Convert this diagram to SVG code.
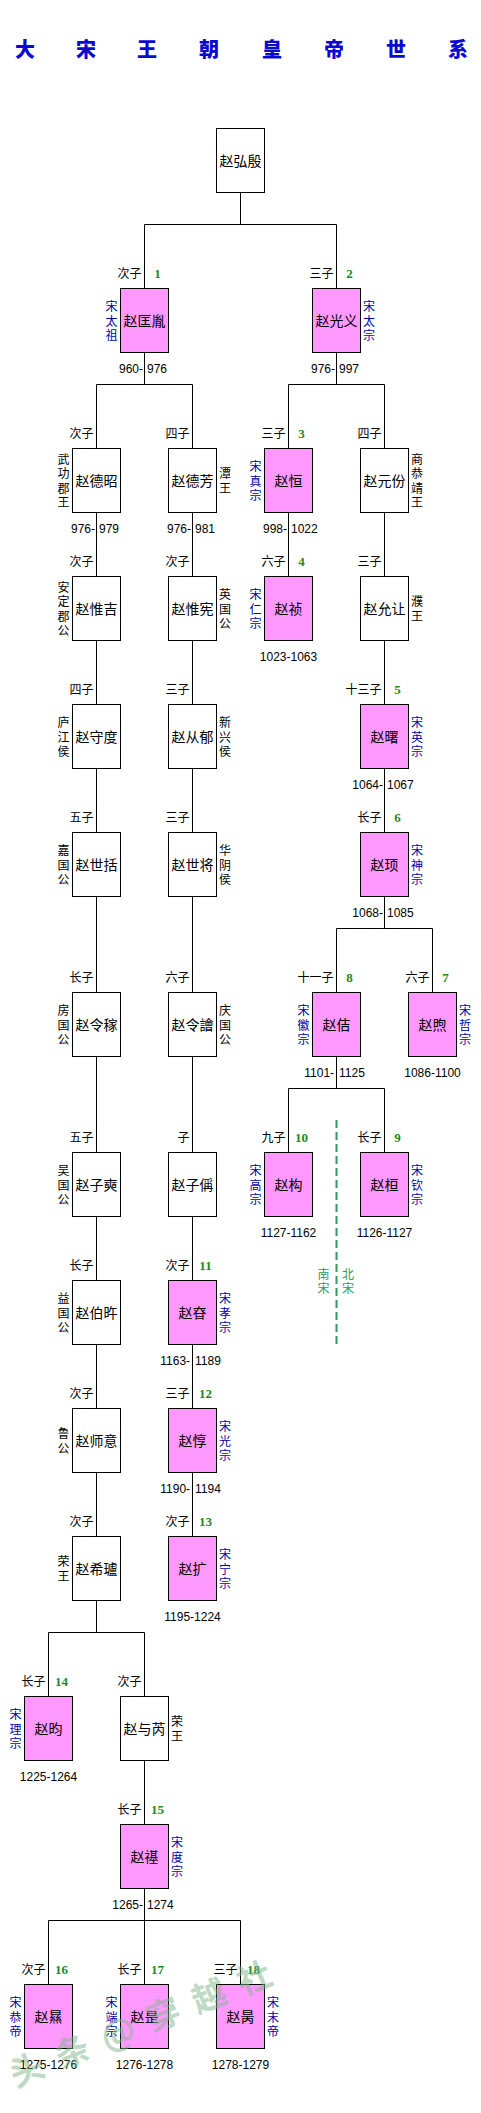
<svg xmlns="http://www.w3.org/2000/svg" width="481" height="2113" viewBox="0 0 481 2113">
<style>
text{font-family:'Liberation Sans','Noto Sans CJK SC',sans-serif;}
.box{stroke:#000;stroke-width:1;}
.w{fill:#fff;}
.p{fill:#ff99ff;}
.nm{font-size:14px;text-anchor:middle;fill:#000;}
.gen{font-size:12px;text-anchor:end;fill:#000;}
.num{font-family:'Liberation Serif','Noto Sans CJK SC',serif;font-weight:bold;font-size:13px;text-anchor:middle;fill:#1a8c1a;}
.yr{font-size:12px;fill:#000;}
.yc{text-anchor:middle;}
.emp{font-size:12px;text-anchor:middle;fill:#0000aa;}
.nob{font-size:12px;text-anchor:middle;fill:#000;}
.ttl{font-family:'Noto Sans CJK SC',sans-serif;font-weight:900;font-size:20px;text-anchor:middle;fill:#0a0ad0;}
.conn{stroke:#000;stroke-width:1;fill:none;}
.div{stroke:#2e9a5e;stroke-width:2;stroke-dasharray:8 4;fill:none;}
.dl{font-size:12px;text-anchor:middle;fill:#2e9a5e;}
.wm{font-family:'Noto Sans CJK SC',sans-serif;font-weight:bold;font-size:34px;letter-spacing:15px;fill:#7fb58a;opacity:0.5;}
</style>
<rect x="0" y="0" width="481" height="2113" fill="#fff"/>
<text class="ttl" y="57"><tspan x="25">大</tspan><tspan x="86">宋</tspan><tspan x="147">王</tspan><tspan x="209">朝</tspan><tspan x="272">皇</tspan><tspan x="334">帝</tspan><tspan x="396">世</tspan><tspan x="458">系</tspan></text>
<g id="connectors">
<path class="conn" d="M240.5 192.5V224.5M144.5 224.5H336.5M144.5 224.5V288.5M336.5 224.5V288.5
M144.5 352.5V384.5M96.5 384.5H192.5M96.5 384.5V448.5M192.5 384.5V448.5
M336.5 352.5V384.5M288.5 384.5H384.5M288.5 384.5V448.5M384.5 384.5V448.5
M96.5 512.5V576.5M96.5 640.5V704.5M96.5 768.5V832.5M96.5 896.5V992.5M96.5 1056.5V1152.5M96.5 1216.5V1280.5M96.5 1344.5V1408.5M96.5 1472.5V1536.5
M96.5 1600.5V1632.5M48.5 1632.5H144.5M48.5 1632.5V1696.5M144.5 1632.5V1696.5
M144.5 1760.5V1824.5M144.5 1888.5V1920.5M48.5 1920.5H240.5M48.5 1920.5V1984.5M144.5 1920.5V1984.5M240.5 1920.5V1984.5
M192.5 512.5V576.5M192.5 640.5V704.5M192.5 768.5V832.5M192.5 896.5V992.5M192.5 1056.5V1152.5M192.5 1216.5V1280.5M192.5 1344.5V1408.5M192.5 1472.5V1536.5
M288.5 512.5V576.5
M384.5 512.5V576.5M384.5 640.5V704.5M384.5 768.5V832.5M384.5 896.5V928.5M336.5 928.5H432.5M336.5 928.5V992.5M432.5 928.5V992.5
M336.5 1056.5V1088.5M288.5 1088.5H384.5M288.5 1088.5V1152.5M384.5 1088.5V1152.5"/>
<path class="div" d="M336.5 1120V1344"/>
</g>
<text class="dl"><tspan x="323.5" y="1278.6">南</tspan><tspan x="323.5" y="1293.1">宋</tspan></text>
<text class="dl"><tspan x="348" y="1278.6">北</tspan><tspan x="348" y="1293.1">宋</tspan></text>

<g id="n0"><rect class="box w" x="216.5" y="128.5" width="48" height="64"/><text class="nm" x="240.5" y="165.5">赵弘殷</text></g>

<g id="n1"><rect class="box p" x="120.5" y="288.5" width="48" height="64"/><text class="nm" x="144.5" y="325.5">赵匡胤</text><text class="gen" x="141.5" y="278">次子</text><text class="num" x="157.5" y="278">1</text><text class="emp"><tspan x="111.5" y="311.1">宋</tspan><tspan x="111.5" y="325.6">太</tspan><tspan x="111.5" y="340.1">祖</tspan></text><text class="yr" x="119" y="373">960-<tspan x="147">976</tspan></text></g>

<g id="n2"><rect class="box p" x="312.5" y="288.5" width="48" height="64"/><text class="nm" x="336.5" y="325.5">赵光义</text><text class="gen" x="333.5" y="278">三子</text><text class="num" x="349.5" y="278">2</text><text class="emp"><tspan x="369" y="311.1">宋</tspan><tspan x="369" y="325.6">太</tspan><tspan x="369" y="340.1">宗</tspan></text><text class="yr" x="311" y="373">976-<tspan x="339">997</tspan></text></g>

<g id="n3"><rect class="box w" x="72.5" y="448.5" width="48" height="64"/><text class="nm" x="96.5" y="485.5">赵德昭</text><text class="gen" x="93.5" y="438">次子</text><text class="nob"><tspan x="63.5" y="463.85">武</tspan><tspan x="63.5" y="478.35">功</tspan><tspan x="63.5" y="492.85">郡</tspan><tspan x="63.5" y="507.35">王</tspan></text><text class="yr" x="71" y="533">976-<tspan x="99">979</tspan></text></g>

<g id="n4"><rect class="box w" x="168.5" y="448.5" width="48" height="64"/><text class="nm" x="192.5" y="485.5">赵德芳</text><text class="gen" x="189.5" y="438">四子</text><text class="nob"><tspan x="225" y="478.35">潭</tspan><tspan x="225" y="492.85">王</tspan></text><text class="yr" x="167" y="533">976-<tspan x="195">981</tspan></text></g>

<g id="n5"><rect class="box p" x="264.5" y="448.5" width="48" height="64"/><text class="nm" x="288.5" y="485.5">赵恒</text><text class="gen" x="285.5" y="438">三子</text><text class="num" x="301.5" y="438">3</text><text class="emp"><tspan x="255.5" y="471.1">宋</tspan><tspan x="255.5" y="485.6">真</tspan><tspan x="255.5" y="500.1">宗</tspan></text><text class="yr" x="263" y="533">998-<tspan x="291">1022</tspan></text></g>

<g id="n6"><rect class="box w" x="360.5" y="448.5" width="48" height="64"/><text class="nm" x="384.5" y="485.5">赵元份</text><text class="gen" x="381.5" y="438">四子</text><text class="nob"><tspan x="417" y="463.85">商</tspan><tspan x="417" y="478.35">恭</tspan><tspan x="417" y="492.85">靖</tspan><tspan x="417" y="507.35">王</tspan></text></g>

<g id="n7"><rect class="box w" x="72.5" y="576.5" width="48" height="64"/><text class="nm" x="96.5" y="613.5">赵惟吉</text><text class="gen" x="93.5" y="566">次子</text><text class="nob"><tspan x="63.5" y="591.85">安</tspan><tspan x="63.5" y="606.35">定</tspan><tspan x="63.5" y="620.85">郡</tspan><tspan x="63.5" y="635.35">公</tspan></text></g>

<g id="n8"><rect class="box w" x="168.5" y="576.5" width="48" height="64"/><text class="nm" x="192.5" y="613.5">赵惟宪</text><text class="gen" x="189.5" y="566">次子</text><text class="nob"><tspan x="225" y="599.1">英</tspan><tspan x="225" y="613.6">国</tspan><tspan x="225" y="628.1">公</tspan></text></g>

<g id="n9"><rect class="box p" x="264.5" y="576.5" width="48" height="64"/><text class="nm" x="288.5" y="613.5">赵祯</text><text class="gen" x="285.5" y="566">六子</text><text class="num" x="301.5" y="566">4</text><text class="emp"><tspan x="255.5" y="599.1">宋</tspan><tspan x="255.5" y="613.6">仁</tspan><tspan x="255.5" y="628.1">宗</tspan></text><text class="yr yc" x="288.5" y="661">1023-1063</text></g>

<g id="n10"><rect class="box w" x="360.5" y="576.5" width="48" height="64"/><text class="nm" x="384.5" y="613.5">赵允让</text><text class="gen" x="381.5" y="566">三子</text><text class="nob"><tspan x="417" y="606.35">濮</tspan><tspan x="417" y="620.85">王</tspan></text></g>

<g id="n11"><rect class="box w" x="72.5" y="704.5" width="48" height="64"/><text class="nm" x="96.5" y="741.5">赵守度</text><text class="gen" x="93.5" y="694">四子</text><text class="nob"><tspan x="63.5" y="727.1">庐</tspan><tspan x="63.5" y="741.6">江</tspan><tspan x="63.5" y="756.1">侯</tspan></text></g>

<g id="n12"><rect class="box w" x="168.5" y="704.5" width="48" height="64"/><text class="nm" x="192.5" y="741.5">赵从郁</text><text class="gen" x="189.5" y="694">三子</text><text class="nob"><tspan x="225" y="727.1">新</tspan><tspan x="225" y="741.6">兴</tspan><tspan x="225" y="756.1">侯</tspan></text></g>

<g id="n13"><rect class="box p" x="360.5" y="704.5" width="48" height="64"/><text class="nm" x="384.5" y="741.5">赵曙</text><text class="gen" x="381.5" y="694">十三子</text><text class="num" x="397.5" y="694">5</text><text class="emp"><tspan x="417" y="727.1">宋</tspan><tspan x="417" y="741.6">英</tspan><tspan x="417" y="756.1">宗</tspan></text><text class="yr" x="352.3" y="789">1064-<tspan x="387">1067</tspan></text></g>

<g id="n14"><rect class="box w" x="72.5" y="832.5" width="48" height="64"/><text class="nm" x="96.5" y="869.5">赵世括</text><text class="gen" x="93.5" y="822">五子</text><text class="nob"><tspan x="63.5" y="855.1">嘉</tspan><tspan x="63.5" y="869.6">国</tspan><tspan x="63.5" y="884.1">公</tspan></text></g>

<g id="n15"><rect class="box w" x="168.5" y="832.5" width="48" height="64"/><text class="nm" x="192.5" y="869.5">赵世将</text><text class="gen" x="189.5" y="822">三子</text><text class="nob"><tspan x="225" y="855.1">华</tspan><tspan x="225" y="869.6">阴</tspan><tspan x="225" y="884.1">侯</tspan></text></g>

<g id="n16"><rect class="box p" x="360.5" y="832.5" width="48" height="64"/><text class="nm" x="384.5" y="869.5">赵顼</text><text class="gen" x="381.5" y="822">长子</text><text class="num" x="397.5" y="822">6</text><text class="emp"><tspan x="417" y="855.1">宋</tspan><tspan x="417" y="869.6">神</tspan><tspan x="417" y="884.1">宗</tspan></text><text class="yr" x="352.3" y="917">1068-<tspan x="387">1085</tspan></text></g>

<g id="n17"><rect class="box w" x="72.5" y="992.5" width="48" height="64"/><text class="nm" x="96.5" y="1029.5">赵令稼</text><text class="gen" x="93.5" y="982">长子</text><text class="nob"><tspan x="63.5" y="1015.1">房</tspan><tspan x="63.5" y="1029.6">国</tspan><tspan x="63.5" y="1044.1">公</tspan></text></g>

<g id="n18"><rect class="box w" x="168.5" y="992.5" width="48" height="64"/><text class="nm" x="192.5" y="1029.5">赵令譮</text><text class="gen" x="189.5" y="982">六子</text><text class="nob"><tspan x="225" y="1015.1">庆</tspan><tspan x="225" y="1029.6">国</tspan><tspan x="225" y="1044.1">公</tspan></text></g>

<g id="n19"><rect class="box p" x="312.5" y="992.5" width="48" height="64"/><text class="nm" x="336.5" y="1029.5">赵佶</text><text class="gen" x="333.5" y="982">十一子</text><text class="num" x="349.5" y="982">8</text><text class="emp"><tspan x="303.5" y="1015.1">宋</tspan><tspan x="303.5" y="1029.6">徽</tspan><tspan x="303.5" y="1044.1">宗</tspan></text><text class="yr" x="304.3" y="1077">1101-<tspan x="339">1125</tspan></text></g>

<g id="n20"><rect class="box p" x="408.5" y="992.5" width="48" height="64"/><text class="nm" x="432.5" y="1029.5">赵煦</text><text class="gen" x="429.5" y="982">六子</text><text class="num" x="445.5" y="982">7</text><text class="emp"><tspan x="465" y="1015.1">宋</tspan><tspan x="465" y="1029.6">哲</tspan><tspan x="465" y="1044.1">宗</tspan></text><text class="yr yc" x="432.5" y="1077">1086-1100</text></g>

<g id="n21"><rect class="box w" x="72.5" y="1152.5" width="48" height="64"/><text class="nm" x="96.5" y="1189.5">赵子奭</text><text class="gen" x="93.5" y="1142">五子</text><text class="nob"><tspan x="63.5" y="1175.1">吴</tspan><tspan x="63.5" y="1189.6">国</tspan><tspan x="63.5" y="1204.1">公</tspan></text></g>

<g id="n22"><rect class="box w" x="168.5" y="1152.5" width="48" height="64"/><text class="nm" x="192.5" y="1189.5">赵子偁</text><text class="gen" x="189.5" y="1142">子</text></g>

<g id="n23"><rect class="box p" x="264.5" y="1152.5" width="48" height="64"/><text class="nm" x="288.5" y="1189.5">赵构</text><text class="gen" x="285.5" y="1142">九子</text><text class="num" x="301.5" y="1142">10</text><text class="emp"><tspan x="255.5" y="1175.1">宋</tspan><tspan x="255.5" y="1189.6">高</tspan><tspan x="255.5" y="1204.1">宗</tspan></text><text class="yr yc" x="288.5" y="1237">1127-1162</text></g>

<g id="n24"><rect class="box p" x="360.5" y="1152.5" width="48" height="64"/><text class="nm" x="384.5" y="1189.5">赵桓</text><text class="gen" x="381.5" y="1142">长子</text><text class="num" x="397.5" y="1142">9</text><text class="emp"><tspan x="417" y="1175.1">宋</tspan><tspan x="417" y="1189.6">钦</tspan><tspan x="417" y="1204.1">宗</tspan></text><text class="yr yc" x="384.5" y="1237">1126-1127</text></g>

<g id="n25"><rect class="box w" x="72.5" y="1280.5" width="48" height="64"/><text class="nm" x="96.5" y="1317.5">赵伯旿</text><text class="gen" x="93.5" y="1270">长子</text><text class="nob"><tspan x="63.5" y="1303.1">益</tspan><tspan x="63.5" y="1317.6">国</tspan><tspan x="63.5" y="1332.1">公</tspan></text></g>

<g id="n26"><rect class="box p" x="168.5" y="1280.5" width="48" height="64"/><text class="nm" x="192.5" y="1317.5">赵昚</text><text class="gen" x="189.5" y="1270">次子</text><text class="num" x="205.5" y="1270">11</text><text class="emp"><tspan x="225" y="1303.1">宋</tspan><tspan x="225" y="1317.6">孝</tspan><tspan x="225" y="1332.1">宗</tspan></text><text class="yr" x="160.3" y="1365">1163-<tspan x="195">1189</tspan></text></g>

<g id="n27"><rect class="box w" x="72.5" y="1408.5" width="48" height="64"/><text class="nm" x="96.5" y="1445.5">赵师意</text><text class="gen" x="93.5" y="1398">次子</text><text class="nob"><tspan x="63.5" y="1438.35">鲁</tspan><tspan x="63.5" y="1452.85">公</tspan></text></g>

<g id="n28"><rect class="box p" x="168.5" y="1408.5" width="48" height="64"/><text class="nm" x="192.5" y="1445.5">赵惇</text><text class="gen" x="189.5" y="1398">三子</text><text class="num" x="205.5" y="1398">12</text><text class="emp"><tspan x="225" y="1431.1">宋</tspan><tspan x="225" y="1445.6">光</tspan><tspan x="225" y="1460.1">宗</tspan></text><text class="yr" x="160.3" y="1493">1190-<tspan x="195">1194</tspan></text></g>

<g id="n29"><rect class="box w" x="72.5" y="1536.5" width="48" height="64"/><text class="nm" x="96.5" y="1573.5">赵希瓐</text><text class="gen" x="93.5" y="1526">次子</text><text class="nob"><tspan x="63.5" y="1566.35">荣</tspan><tspan x="63.5" y="1580.85">王</tspan></text></g>

<g id="n30"><rect class="box p" x="168.5" y="1536.5" width="48" height="64"/><text class="nm" x="192.5" y="1573.5">赵扩</text><text class="gen" x="189.5" y="1526">次子</text><text class="num" x="205.5" y="1526">13</text><text class="emp"><tspan x="225" y="1559.1">宋</tspan><tspan x="225" y="1573.6">宁</tspan><tspan x="225" y="1588.1">宗</tspan></text><text class="yr yc" x="192.5" y="1621">1195-1224</text></g>

<g id="n31"><rect class="box p" x="24.5" y="1696.5" width="48" height="64"/><text class="nm" x="48.5" y="1733.5">赵昀</text><text class="gen" x="45.5" y="1686">长子</text><text class="num" x="61.5" y="1686">14</text><text class="emp"><tspan x="15.5" y="1719.1">宋</tspan><tspan x="15.5" y="1733.6">理</tspan><tspan x="15.5" y="1748.1">宗</tspan></text><text class="yr yc" x="48.5" y="1781">1225-1264</text></g>

<g id="n32"><rect class="box w" x="120.5" y="1696.5" width="48" height="64"/><text class="nm" x="144.5" y="1733.5">赵与芮</text><text class="gen" x="141.5" y="1686">次子</text><text class="nob"><tspan x="177" y="1726.35">荣</tspan><tspan x="177" y="1740.85">王</tspan></text></g>

<g id="n33"><rect class="box p" x="120.5" y="1824.5" width="48" height="64"/><text class="nm" x="144.5" y="1861.5">赵禥</text><text class="gen" x="141.5" y="1814">长子</text><text class="num" x="157.5" y="1814">15</text><text class="emp"><tspan x="177" y="1847.1">宋</tspan><tspan x="177" y="1861.6">度</tspan><tspan x="177" y="1876.1">宗</tspan></text><text class="yr" x="112.3" y="1909">1265-<tspan x="147">1274</tspan></text></g>

<g id="n34"><rect class="box p" x="24.5" y="1984.5" width="48" height="64"/><text class="nm" x="48.5" y="2021.5">赵㬎</text><text class="gen" x="45.5" y="1974">次子</text><text class="num" x="61.5" y="1974">16</text><text class="emp"><tspan x="15.5" y="2007.1">宋</tspan><tspan x="15.5" y="2021.6">恭</tspan><tspan x="15.5" y="2036.1">帝</tspan></text><text class="yr yc" x="48.5" y="2069">1275-1276</text></g>

<g id="n35"><rect class="box p" x="120.5" y="1984.5" width="48" height="64"/><text class="nm" x="144.5" y="2021.5">赵昰</text><text class="gen" x="141.5" y="1974">长子</text><text class="num" x="157.5" y="1974">17</text><text class="emp"><tspan x="111.5" y="2007.1">宋</tspan><tspan x="111.5" y="2021.6">端</tspan><tspan x="111.5" y="2036.1">宗</tspan></text><text class="yr yc" x="144.5" y="2069">1276-1278</text></g>

<g id="n36"><rect class="box p" x="216.5" y="1984.5" width="48" height="64"/><text class="nm" x="240.5" y="2021.5">赵昺</text><text class="gen" x="237.5" y="1974">三子</text><text class="num" x="253.5" y="1974">18</text><text class="emp"><tspan x="273" y="2007.1">宋</tspan><tspan x="273" y="2021.6">末</tspan><tspan x="273" y="2036.1">帝</tspan></text><text class="yr yc" x="240.5" y="2069">1278-1279</text></g>

<text class="wm" transform="translate(27 2070) rotate(-22)" x="-17" y="12">头条@穿越社</text>
</svg>
